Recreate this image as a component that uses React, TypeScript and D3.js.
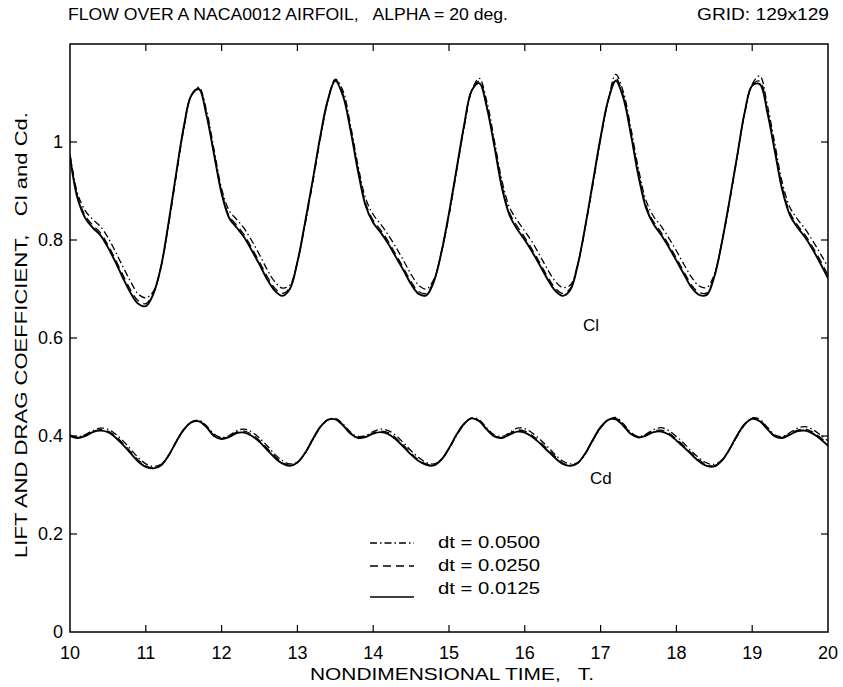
import React from "react";
import * as d3 from "d3";

const times: number[] = d3.range(0, 101).map((i) => 10 + i / 10);

const clDt0500: number[] = [
  0.975, 0.895, 0.86, 0.842, 0.828, 0.805, 0.776, 0.745, 0.715, 0.69,
  0.682, 0.695, 0.745, 0.83, 0.93, 1.025, 1.095, 1.112, 1.065, 0.985,
  0.905, 0.86, 0.842, 0.823, 0.798, 0.77, 0.74, 0.715, 0.702, 0.708,
  0.755, 0.83, 0.915, 1.005, 1.082, 1.128, 1.105, 1.035, 0.952, 0.885,
  0.852, 0.832, 0.81, 0.785, 0.758, 0.73, 0.708, 0.7, 0.72, 0.775,
  0.85, 0.94, 1.03, 1.105, 1.13, 1.082, 1.002, 0.92, 0.866, 0.84,
  0.818, 0.795, 0.768, 0.74, 0.716, 0.703, 0.708, 0.752, 0.828, 0.915,
  1.005, 1.085, 1.138, 1.102, 1.028, 0.945, 0.88, 0.848, 0.828, 0.804,
  0.778, 0.75, 0.724, 0.706, 0.703, 0.73, 0.795, 0.878, 0.968, 1.058,
  1.118, 1.135, 1.075, 0.995, 0.915, 0.866, 0.842, 0.822, 0.798, 0.772,
  0.745,
];

const clDt0250: number[] = [
  0.972, 0.888, 0.85, 0.83, 0.815, 0.79, 0.76, 0.728, 0.698, 0.676,
  0.67, 0.692, 0.745, 0.833, 0.933, 1.028, 1.095, 1.11, 1.058, 0.978,
  0.898, 0.849, 0.83, 0.81, 0.783, 0.755, 0.726, 0.702, 0.691, 0.703,
  0.755, 0.833, 0.918, 1.008, 1.084, 1.127, 1.098, 1.028, 0.944, 0.875,
  0.84, 0.82, 0.797, 0.77, 0.743, 0.715, 0.695, 0.691, 0.717, 0.775,
  0.853, 0.943, 1.033, 1.105, 1.124, 1.074, 0.994, 0.91, 0.855, 0.828,
  0.805, 0.78, 0.753, 0.725, 0.702, 0.691, 0.701, 0.751, 0.829, 0.918,
  1.008, 1.085, 1.13, 1.094, 1.019, 0.935, 0.87, 0.837, 0.815, 0.79,
  0.763, 0.735, 0.708, 0.693, 0.692, 0.727, 0.795, 0.879, 0.969, 1.059,
  1.116, 1.124, 1.065, 0.985, 0.905, 0.855, 0.83, 0.81, 0.785, 0.758,
  0.728,
];

const clDt0125: number[] = [
  0.97, 0.885, 0.845, 0.825, 0.81, 0.785, 0.755, 0.722, 0.692, 0.67,
  0.665, 0.69, 0.745, 0.835, 0.935, 1.03, 1.095, 1.108, 1.055, 0.975,
  0.895, 0.845, 0.825, 0.805, 0.778, 0.75, 0.72, 0.697, 0.686, 0.7,
  0.755, 0.835, 0.92, 1.01, 1.085, 1.125, 1.095, 1.025, 0.94, 0.87,
  0.835, 0.815, 0.792, 0.765, 0.738, 0.71, 0.69, 0.687, 0.715, 0.775,
  0.855, 0.945, 1.035, 1.105, 1.12, 1.07, 0.99, 0.905, 0.85, 0.822,
  0.8, 0.775, 0.748, 0.72, 0.697, 0.686, 0.698, 0.75, 0.83, 0.92,
  1.01, 1.085, 1.125, 1.09, 1.015, 0.93, 0.865, 0.832, 0.81, 0.785,
  0.758, 0.73, 0.703, 0.688, 0.688, 0.725, 0.795, 0.88, 0.97, 1.06,
  1.115, 1.118, 1.06, 0.98, 0.9, 0.85, 0.825, 0.805, 0.78, 0.752,
  0.722,
];

const cdDt0500: number[] = [
  0.402, 0.398, 0.403, 0.411, 0.416, 0.414, 0.404, 0.39, 0.373, 0.356,
  0.343, 0.338, 0.342, 0.36, 0.387, 0.412, 0.428, 0.432, 0.421, 0.404,
  0.397, 0.401, 0.411, 0.414, 0.408, 0.396, 0.38, 0.363, 0.35, 0.343,
  0.347, 0.364, 0.391, 0.417, 0.433, 0.436, 0.425, 0.408, 0.399, 0.401,
  0.409, 0.414, 0.411, 0.401, 0.386, 0.37, 0.356, 0.346, 0.343, 0.352,
  0.374, 0.401, 0.424, 0.437, 0.433, 0.416, 0.402, 0.399, 0.407, 0.416,
  0.415, 0.406, 0.393, 0.378, 0.362, 0.349, 0.343, 0.346, 0.364, 0.391,
  0.416, 0.433, 0.438, 0.425, 0.407, 0.399, 0.404, 0.413, 0.417, 0.411,
  0.399, 0.385, 0.369, 0.355, 0.345, 0.342, 0.351, 0.372, 0.399, 0.423,
  0.437, 0.434, 0.418, 0.402, 0.399, 0.407, 0.416, 0.419, 0.413, 0.402,
  0.39,
];

const cdDt0250: number[] = [
  0.401, 0.397, 0.401, 0.409, 0.413, 0.41, 0.4, 0.385, 0.368, 0.351,
  0.339, 0.335, 0.341, 0.36, 0.388, 0.413, 0.428, 0.431, 0.419, 0.401,
  0.395, 0.399, 0.408, 0.41, 0.403, 0.391, 0.375, 0.359, 0.346, 0.34,
  0.346, 0.365, 0.392, 0.418, 0.433, 0.435, 0.423, 0.406, 0.397, 0.399,
  0.406, 0.41, 0.407, 0.396, 0.381, 0.365, 0.351, 0.343, 0.341, 0.352,
  0.375, 0.402, 0.425, 0.437, 0.431, 0.414, 0.4, 0.397, 0.405, 0.412,
  0.41, 0.401, 0.388, 0.373, 0.358, 0.345, 0.34, 0.345, 0.365, 0.392,
  0.417, 0.433, 0.436, 0.423, 0.405, 0.398, 0.402, 0.41, 0.412, 0.406,
  0.394, 0.38, 0.365, 0.351, 0.341, 0.339, 0.35, 0.373, 0.4, 0.424,
  0.436, 0.432, 0.416, 0.4, 0.397, 0.405, 0.412, 0.414, 0.408, 0.397,
  0.384,
];

const cdDt0125: number[] = [
  0.4, 0.396, 0.4, 0.408, 0.411, 0.408, 0.397, 0.382, 0.365, 0.348,
  0.337, 0.334, 0.34, 0.36, 0.388, 0.413, 0.428, 0.43, 0.418, 0.4,
  0.394, 0.398, 0.406, 0.407, 0.4, 0.388, 0.372, 0.356, 0.344, 0.339,
  0.346, 0.365, 0.393, 0.418, 0.433, 0.434, 0.422, 0.405, 0.396, 0.398,
  0.405, 0.408, 0.404, 0.393, 0.378, 0.362, 0.349, 0.341, 0.34, 0.352,
  0.375, 0.403, 0.425, 0.436, 0.43, 0.413, 0.399, 0.396, 0.403, 0.409,
  0.407, 0.398, 0.385, 0.37, 0.355, 0.343, 0.339, 0.345, 0.365, 0.393,
  0.418, 0.433, 0.434, 0.421, 0.404, 0.397, 0.401, 0.408, 0.409, 0.403,
  0.391, 0.377, 0.362, 0.348, 0.339, 0.338, 0.35, 0.373, 0.401, 0.424,
  0.435, 0.43, 0.414, 0.399, 0.396, 0.403, 0.41, 0.411, 0.405, 0.394,
  0.38,
];

const xTicks: number[] = [10, 11, 12, 13, 14, 15, 16, 17, 18, 19, 20];
const yTicks: number[] = [0, 0.2, 0.4, 0.6, 0.8, 1];
const yTickLabels: string[] = ["0", "0.2", "0.4", "0.6", "0.8", "1"];
const legendLabels: string[] = ["dt = 0.0500", "dt = 0.0250", "dt = 0.0125"];
const dashStyles: string[] = ["7,3,1.5,3", "8,5", ""];

const W = 843;
const H = 687;
const FONT = "'Liberation Sans', Arial, Helvetica, sans-serif";
const PRE: React.CSSProperties = { whiteSpace: "pre" };

export default function App() {
  const x = d3.scaleLinear().domain([10, 20]).range([70, 828]);
  const y = d3.scaleLinear().domain([0, 1]).range([632, 142]);
  const top = y(1.2);
  const line = d3
    .line<[number, number]>()
    .x((d) => x(d[0]))
    .y((d) => y(d[1]))
    .curve(d3.curveCatmullRom.alpha(0.5));

  const series = [
    { vals: clDt0500, dash: dashStyles[0], w: 1.3 },
    { vals: clDt0250, dash: dashStyles[1], w: 1.3 },
    { vals: clDt0125, dash: dashStyles[2], w: 1.9 },
    { vals: cdDt0500, dash: dashStyles[0], w: 1.3 },
    { vals: cdDt0250, dash: dashStyles[1], w: 1.3 },
    { vals: cdDt0125, dash: dashStyles[2], w: 1.9 },
  ];

  const legendTextY = [542, 565, 588];
  const legendLineY = [543, 566, 597];

  return (
    <svg
      width={W}
      height={H}
      style={{ position: "absolute", left: 0, top: 0, background: "#fff" }}
      fontFamily={FONT}
    >
      <rect x={0} y={0} width={W} height={H} fill="#fff" />
      <text x={68} y={20} fontSize={17} textLength={440} lengthAdjust="spacingAndGlyphs" style={PRE}>
        FLOW OVER A NACA0012 AIRFOIL,   ALPHA = 20 deg.
      </text>
      <text x={697} y={20} fontSize={17} textLength={132} lengthAdjust="spacingAndGlyphs" style={PRE}>
        GRID: 129x129
      </text>

      <defs>
        <clipPath id="plot">
          <rect x={x(10)} y={top} width={x(20) - x(10)} height={y(0) - top} />
        </clipPath>
      </defs>

      <g clipPath="url(#plot)">
        {series.map((s, i) => (
          <path
            key={i}
            d={line(times.map((t, j) => [t, s.vals[j]] as [number, number])) || ""}
            fill="none"
            stroke="#000"
            strokeWidth={s.w}
            strokeDasharray={s.dash || undefined}
          />
        ))}
      </g>

      <rect
        x={x(10)}
        y={top}
        width={x(20) - x(10)}
        height={y(0) - top}
        fill="none"
        stroke="#000"
        strokeWidth={1.5}
      />

      {xTicks.slice(1, -1).map((t) => (
        <g key={"xt" + t}>
          <line x1={x(t)} x2={x(t)} y1={y(0)} y2={y(0) - 7} stroke="#000" strokeWidth={1.2} />
          <line x1={x(t)} x2={x(t)} y1={top} y2={top + 7} stroke="#000" strokeWidth={1.2} />
        </g>
      ))}
      {yTicks.slice(1).map((v) => (
        <g key={"yt" + v}>
          <line x1={x(10)} x2={x(10) + 7} y1={y(v)} y2={y(v)} stroke="#000" strokeWidth={1.2} />
          <line x1={x(20)} x2={x(20) - 7} y1={y(v)} y2={y(v)} stroke="#000" strokeWidth={1.2} />
        </g>
      ))}

      {xTicks.map((t) => (
        <text key={"xl" + t} x={x(t)} y={659} fontSize={18} textAnchor="middle">
          {String(t)}
        </text>
      ))}
      {yTicks.map((v, i) => (
        <text key={"yl" + v} x={63} y={y(v) + 6} fontSize={18} textAnchor="end">
          {yTickLabels[i]}
        </text>
      ))}

      <text
        x={310}
        y={680}
        fontSize={17}
        textLength={284}
        lengthAdjust="spacingAndGlyphs"
        style={PRE}
      >
        NONDIMENSIONAL TIME,   T.
      </text>
      <text
        transform={`translate(27, 558) rotate(-90)`}
        fontSize={17}
        textLength={446}
        lengthAdjust="spacingAndGlyphs"
        style={PRE}
      >
        LIFT AND DRAG COEFFICIENT,   Cl and Cd.
      </text>

      <text x={583} y={331} fontSize={17}>Cl</text>
      <text x={590} y={484} fontSize={17}>Cd</text>

      {legendLabels.map((lab, i) => (
        <g key={"lg" + i}>
          <line
            x1={370}
            x2={414}
            y1={legendLineY[i]}
            y2={legendLineY[i]}
            stroke="#000"
            strokeWidth={1.4}
            strokeDasharray={dashStyles[i] || undefined}
          />
          <text
            x={438}
            y={legendTextY[i] + 6}
            fontSize={17}
            textLength={102}
            lengthAdjust="spacingAndGlyphs"
          >
            {lab}
          </text>
        </g>
      ))}
    </svg>
  );
}
